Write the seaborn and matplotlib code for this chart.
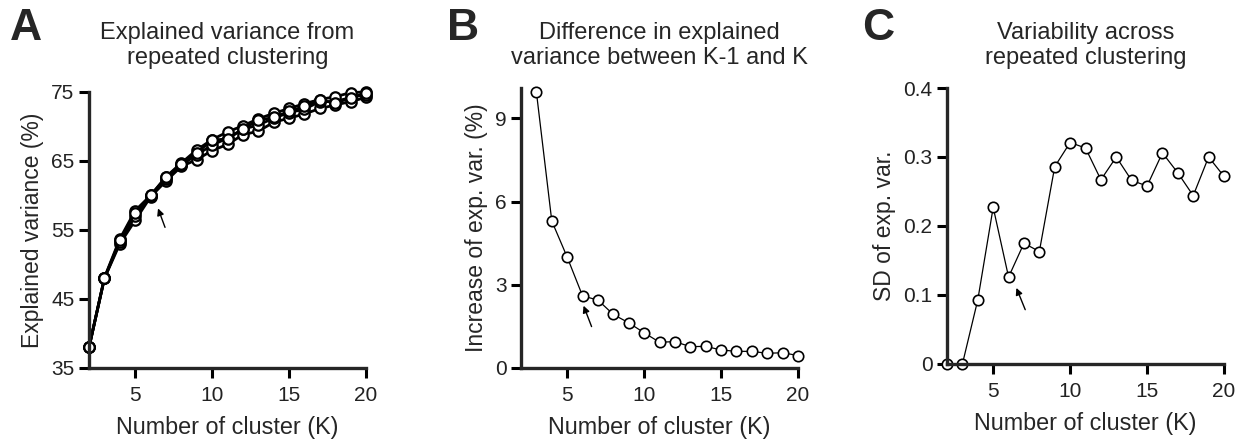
import numpy as np
import pandas as pd
import seaborn as sns
import matplotlib.pyplot as plt

# cluster numbers
K_all = list(range(2, 21))
K_diff = list(range(3, 21))

# panel A: explained variance (%) for a few of the repeated clustering runs
run_top = [38.0, 48.1, 53.7, 57.8, 60.0, 62.7, 64.7, 66.6, 68.1, 69.2, 70.1, 71.1, 71.9, 72.6, 73.3, 73.9, 74.3, 74.9, 75.0]
run_mid = [38.0, 48.0, 53.3, 57.0, 59.9, 62.4, 64.4, 65.9, 67.3, 68.3, 69.6, 70.2, 71.2, 72.0, 72.5, 73.6, 73.6, 74.2, 74.6]
run_low = [38.0, 48.0, 53.0, 56.4, 59.8, 62.1, 64.2, 65.2, 66.5, 67.4, 68.8, 69.3, 70.6, 71.2, 71.8, 72.6, 73.1, 73.6, 74.2]
run_show = [38.0, 48.0, 53.5, 57.5, 60.0, 62.6, 64.6, 66.2, 68.0, 68.2, 69.6, 70.9, 71.3, 72.2, 72.9, 73.8, 73.4, 74.1, 74.9]

# panel B: increase of explained variance from K-1 to K (%)
exp_increase = [9.95, 5.3, 4.0, 2.6, 2.45, 1.93, 1.63, 1.27, 0.93, 0.95, 0.77, 0.78, 0.65, 0.6, 0.6, 0.53, 0.55, 0.45]

# panel C: SD of explained variance across repeats
sd_expvar = [0.0, 0.0, 0.093, 0.227, 0.126, 0.175, 0.163, 0.286, 0.321, 0.313, 0.267, 0.300, 0.266, 0.258, 0.306, 0.277, 0.244, 0.300, 0.272]

runs = {"r1": run_low, "r2": run_mid, "r3": run_top, "r4": run_show}
dfA = pd.concat([pd.DataFrame({"K": K_all, "var": v, "run": name}) for name, v in runs.items()])
dfB = pd.DataFrame({"K": K_diff, "inc": exp_increase})
dfC = pd.DataFrame({"K": K_all, "sd": sd_expvar})

sns.set_style("ticks")
plt.rcParams['font.family'] = ['Liberation Sans', 'DejaVu Sans']

fig = plt.figure(figsize=(12.42, 4.44), dpi=100)
axA = fig.add_axes([0.0717, 0.1712, 0.223, 0.6218])
axB = fig.add_axes([0.4195, 0.1712, 0.223, 0.6306])
axC = fig.add_axes([0.7625, 0.1802, 0.223, 0.6216])

mk = dict(marker="o", markersize=7.5, markerfacecolor="white", markeredgecolor="black", clip_on=False)

sns.lineplot(data=dfA, x="K", y="var", units="run", estimator=None, color="black",
             linewidth=2.0, markeredgewidth=1.6, ax=axA, **mk)
sns.lineplot(data=dfB, x="K", y="inc", color="black", linewidth=0.9, markeredgewidth=1.2, ax=axB, **mk)
sns.lineplot(data=dfC, x="K", y="sd", color="black", linewidth=0.9, markeredgewidth=1.2, ax=axC, **mk)

axA.set_xlim(2, 20)
axA.set_ylim(35, 75)
axA.set_yticks([35, 45, 55, 65, 75])
axA.set_ylabel("Explained variance (%)")

axB.set_xlim(2, 20)
axB.set_ylim(0, 10.1)
axB.set_yticks([0, 3, 6, 9])
axB.set_ylabel("Increase of exp. var. (%)")

axC.set_xlim(2, 20)
axC.set_ylim(0, 0.4)
axC.set_yticks([0, 0.1, 0.2, 0.3, 0.4])
axC.set_yticklabels(["0", "0.1", "0.2", "0.3", "0.4"])
axC.set_ylabel("SD of exp. var.")

titles = ["Explained variance from\nrepeated clustering",
          "Difference in explained\nvariance between K-1 and K",
          "Variability across\nrepeated clustering"]
letters = ["A", "B", "C"]
letter_x = [0.008, 0.360, 0.694]

for ax, t, L, lx in zip([axA, axB, axC], titles, letters, letter_x):
    ax.set_xticks([5, 10, 15, 20])
    ax.set_xlabel("Number of cluster (K)", fontsize=16.8, labelpad=8)
    ax.yaxis.label.set_fontsize(16.5)
    ax.yaxis.labelpad = 5
    for s in ["left", "bottom"]:
        ax.spines[s].set_linewidth(2.4)
    sns.despine(ax=ax)
    ax.tick_params(width=2.2, length=7, labelsize=15, color="black", labelcolor="#222222")
    ax.tick_params(axis="x", pad=6)
    pos = ax.get_position()
    fig.text((pos.x0 + pos.x1) / 2, 0.898, t, ha="center", va="center", fontsize=17, linespacing=1.15)
    fig.text(lx, 0.935, L, ha="left", va="center", fontsize=32, fontweight="bold")

# arrows pointing at K = 6
arr = dict(arrowstyle="-|>", color="black", lw=1.0, mutation_scale=10)
axA.annotate("", xy=(6.42, 58.5), xytext=(7.0, 55.0), arrowprops=arr)
axB.annotate("", xy=(6.0, 2.34), xytext=(6.65, 1.4), arrowprops=arr)
axC.annotate("", xy=(6.44, 0.114), xytext=(7.15, 0.075), arrowprops=arr)

fig.savefig("out.png", dpi=100)
